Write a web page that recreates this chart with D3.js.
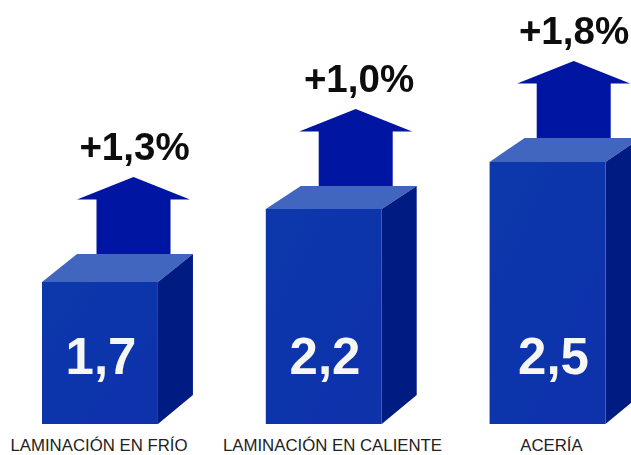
<!DOCTYPE html>
<html>
<head>
<meta charset="utf-8">
<script src="https://cdn.jsdelivr.net/npm/d3@7"></script>
<style>
    html, body { margin: 0; padding: 0; background: #fff; overflow: hidden; }
    svg { display: block; }
    text { font-family: "Liberation Sans", Arial, sans-serif; }
</style>
</head>
<body>
<svg id="chart" width="631" height="455"></svg>
<script>
// values
var categories = ["LAMINACIÓN EN FRÍO", "LAMINACIÓN EN CALIENTE", "ACERÍA"];
var values = [1.7, 2.2, 2.5];
var increases = [1.3, 1.0, 1.8];

var width = 631,
    height = 455,
    baseline = 424,
    depthX = 35;

var svg = d3.select("#chart");

var es = d3.formatLocale({decimal: ",", thousands: ".", grouping: [3], currency: ["", "€"]});
var format_value = es.format(".1f"),
    format_increase = es.format("+.1f");

var x = d3.scaleBand()
    .domain(categories)
    .range([42, 605.5])
    .paddingInner(0.482)
    .paddingOuter(0);

// the picture is not to scale, so the heights go through the three read values
var y = d3.scaleLinear()
    .domain(values)
    .range([282, 209, 162]);

// perspective differs a bit from one box to the next
var depthTop = d3.scaleOrdinal().domain(categories).range([28, 23, 24]);
var arrowX = d3.scaleOrdinal().domain(categories).range([133.5, 355.7, 573.7]);
var labelX = d3.scaleOrdinal().domain(categories).range([99, 332.5, 551.5]);
var valueX = d3.scaleOrdinal().domain(categories).range([101, 325, 553.5]);
var increaseX = d3.scaleOrdinal().domain(categories).range([134.5, 359, 574]);

var data = categories.map(function (c, i) {
    return {category: c, value: values[i], increase: increases[i]};
});

var defs = svg.append("defs");
defs.append("filter")
    .attr("id", "soft")
    .append("feGaussianBlur")
    .attr("stdDeviation", 0.5);

var front = defs.append("linearGradient")
    .attr("id", "front")
    .attr("x1", 0).attr("y1", 0).attr("x2", 1).attr("y2", 1);
front.append("stop").attr("offset", "0%").attr("stop-color", "#1138ac");
front.append("stop").attr("offset", "100%").attr("stop-color", "#0d31aa");

var line = d3.line();

var group = svg.selectAll(".box")
    .data(data)
    .enter().append("g")
    .attr("class", "box")
    .attr("filter", "url(#soft)");

// arrow, standing behind the box
group.append("path")
    .attr("fill", "#0414a2")
    .attr("d", function (d) {
        var cx = arrowX(d.category),
            backTop = y(d.value) - depthTop(d.category),
            apex = backTop - 77,
            head = apex + 22.5;
        return line([
            [cx, apex], [cx + 56.5, head], [cx + 37, head], [cx + 37, backTop],
            [cx - 37, backTop], [cx - 37, head], [cx - 56.5, head]
        ]) + "Z";
    });

// top face
group.append("path")
    .attr("fill", "#3f66c0")
    .attr("d", function (d) {
        var x0 = x(d.category),
            x1 = x0 + x.bandwidth(),
            top = y(d.value),
            dy = depthTop(d.category);
        return line([[x0, top], [x0 + depthX, top - dy], [x1 + depthX, top - dy], [x1, top]]) + "Z";
    });

// side face
group.append("path")
    .attr("fill", "#011a82")
    .attr("d", function (d) {
        var x1 = x(d.category) + x.bandwidth(),
            top = y(d.value),
            dy = depthTop(d.category);
        return line([[x1, top], [x1 + depthX, top - dy], [x1 + depthX, baseline - 29], [x1, baseline]]) + "Z";
    });

// front face
group.append("rect")
    .attr("fill", "url(#front)")
    .attr("x", function (d) { return x(d.category); })
    .attr("y", function (d) { return y(d.value); })
    .attr("width", x.bandwidth())
    .attr("height", function (d) { return baseline - y(d.value); });

// value in the box
group.append("text")
    .attr("x", function (d) { return valueX(d.category); })
    .attr("y", 374)
    .attr("text-anchor", "middle")
    .attr("font-size", 51)
    .attr("font-weight", "bold")
    .attr("fill", "#f6f6f2")
    .text(function (d) { return format_value(d.value); });

// increase over the arrow
group.append("text")
    .attr("x", function (d) { return increaseX(d.category); })
    .attr("y", function (d) { return y(d.value) - depthTop(d.category) - 94; })
    .attr("text-anchor", "middle")
    .attr("font-size", 38.5)
    .attr("font-weight", "bold")
    .attr("fill", "#0a0a0a")
    .text(function (d) { return format_increase(d.increase) + "%"; });

// category labels
svg.selectAll(".label")
    .data(data)
    .enter().append("text")
    .attr("class", "label")
    .attr("x", function (d) { return labelX(d.category); })
    .attr("y", 451.4)
    .attr("text-anchor", "middle")
    .attr("font-size", 16.8)
    .attr("fill", "#222")
    .text(function (d) { return d.category; });
</script>
</body>
</html>
